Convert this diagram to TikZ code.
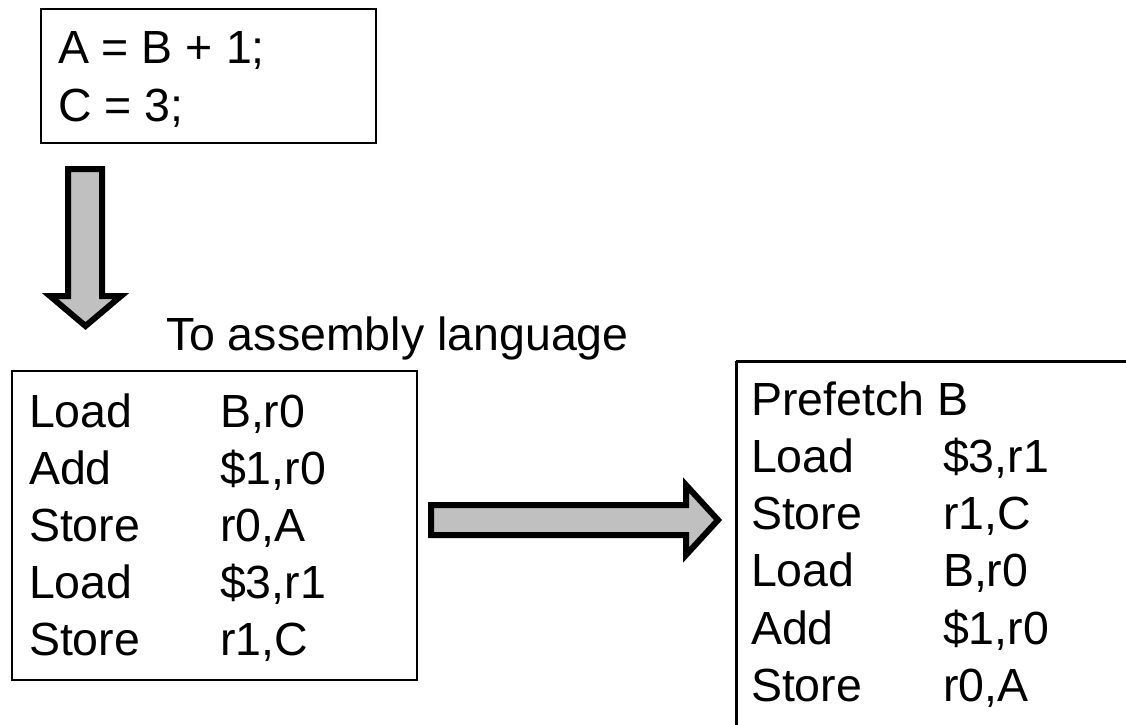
\documentclass[tikz,border=0pt]{standalone}
\usepackage{fontspec}
\setmainfont{Liberation Sans}
\definecolor{arrowfill}{HTML}{C0C0C0}
\tikzset{
  codebox/.style={draw=black, line width=2pt, fill=none},
  codeline/.style={anchor=base west, inner sep=0pt, outer sep=0pt,
    font=\fontsize{46.5}{57}\selectfont},
  blockarrow/.style={draw=black, fill=arrowfill, line width=6pt, line join=miter, miter limit=10}
}
\begin{document}
\begin{tikzpicture}[x=1pt, y=-1pt]
  % page frame
  \fill[white] (0,0) rectangle (1126,724);
  \useasboundingbox (0,0) rectangle (1126,724);
  \clip (0,0) rectangle (1126,724);

  % source statements
  \draw[codebox] (41,9) rectangle (376,143);
  \node[codeline] (src1) at (58,63)  {A = B + 1;};
  \node[codeline] (src2) at (58,121) {C = 3;};

  % compile step arrow
  \draw[blockarrow] (68,169) -- (102,169) -- (102,296) -- (121,296) -- (85.5,326)
    -- (50,296) -- (68,296) -- cycle;
  \node[codeline] (caption) at (166,350) {To assembly language};

  % assembly before reordering
  \draw[codebox] (12,371) rectangle (417,680);
  \foreach \op/\arg [count=\i from 0] in {Load/{B,r0}, Add/{\$1,r0}, Store/{r0,A}, Load/{\$3,r1}, Store/{r1,C}} {
    \node[codeline] (asmop\i)  at (29, 427+57*\i) {\op};
    \node[codeline] (asmarg\i) at (220,427+57*\i) {\arg};
  }

  % reordering arrow
  \draw[blockarrow] (431,505) -- (686,505) -- (686,485) -- (718,520) -- (686,555)
    -- (686,535) -- (431,535) -- cycle;

  % assembly with prefetch
  \draw[codebox, line width=3pt] (736,361) -- (1140,361) (736,361) -- (736,740);
  \node[codeline] (pf0) at (751,415) {Prefetch B};
  \foreach \op/\arg [count=\i from 1] in {Load/{\$3,r1}, Store/{r1,C}, Load/{B,r0}, Add/{\$1,r0}, Store/{r0,A}} {
    \node[codeline] (pfop\i)  at (751, 415+57.3*\i) {\op};
    \node[codeline] (pfarg\i) at (943, 415+57.3*\i) {\arg};
  }
\end{tikzpicture}
\end{document}
